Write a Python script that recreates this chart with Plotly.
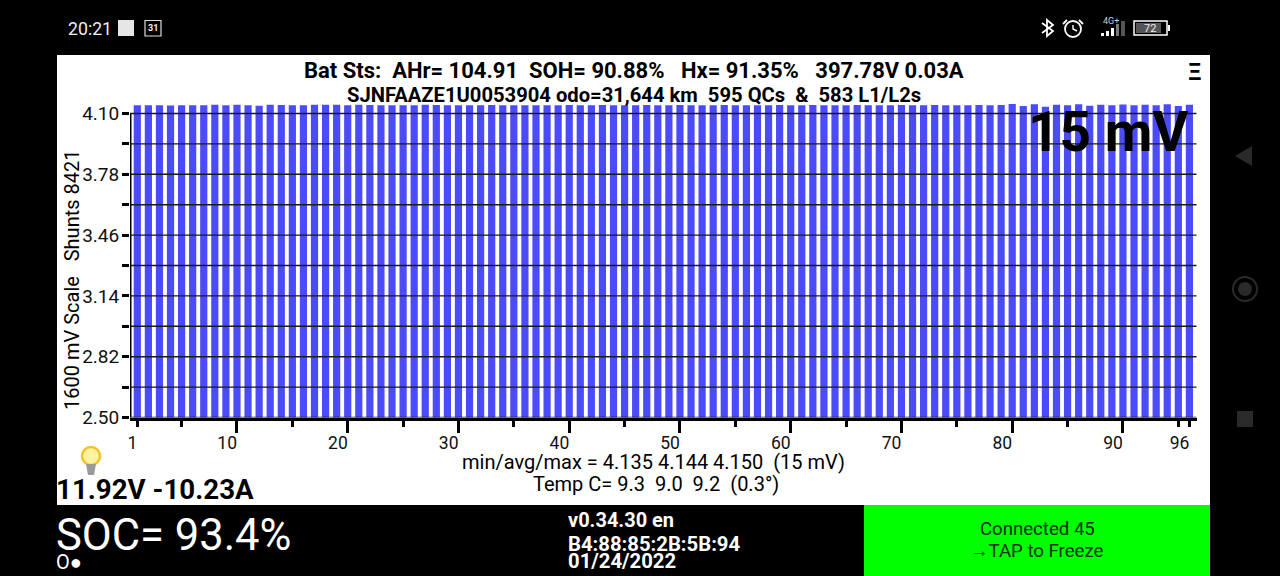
import plotly.graph_objects as go

W, H = 1280, 576
FONT = "Roboto"

# cell voltages
cells = list(range(1, 97))
volts = [
    4.144, 4.144, 4.144, 4.142, 4.144, 4.144, 4.144, 4.146, 4.144, 4.146,
    4.144, 4.141, 4.146, 4.145, 4.144, 4.144, 4.146, 4.146, 4.146, 4.144,
    4.146, 4.145, 4.144, 4.144, 4.144, 4.144, 4.146, 4.145, 4.144, 4.144,
    4.144, 4.144, 4.145, 4.144, 4.144, 4.144, 4.144, 4.144, 4.144, 4.145,
    4.144, 4.144, 4.145, 4.144, 4.144, 4.144, 4.145, 4.144, 4.144, 4.145,
    4.144, 4.144, 4.144, 4.145, 4.144, 4.144, 4.144, 4.144, 4.145, 4.144,
    4.144, 4.145, 4.144, 4.144, 4.144, 4.145, 4.144, 4.144, 4.144, 4.145,
    4.144, 4.144, 4.145, 4.144, 4.144, 4.144, 4.145, 4.144, 4.145, 4.150,
    4.140, 4.149, 4.136, 4.146, 4.143, 4.149, 4.141, 4.146, 4.143, 4.147,
    4.144, 4.146, 4.143, 4.149, 4.140, 4.146,
]

y_ticks = [2.50, 2.66, 2.82, 2.98, 3.14, 3.30, 3.46, 3.62, 3.78, 3.94, 4.10]
y_labels = ["2.50", "", "2.82", "", "3.14", "", "3.46", "", "3.78", "", "4.10"]
x_ticks = [1, 5, 10, 15, 20, 25, 30, 35, 40, 45, 50, 55, 60, 65, 70, 75, 80, 85, 90, 95, 96]
x_labels = ["1", "", "10", "", "20", "", "30", "", "40", "", "50", "", "60", "", "70", "", "80", "", "90", "", "96"]
x_long_ticks = [10, 20, 30, 40, 50, 60, 70, 80, 90]
x_range = [0.34, 96.66]
y_range = [2.5, 4.16]  # headroom so the bars can go over the 4.10 tick


def px(x):
    return x / W


def py(y):
    return 1 - y / H


def box(x0, y0, x1, y1, fill, line=None, width=0, kind="rect", layer="below"):
    return dict(type=kind, xref="paper", yref="paper", x0=px(x0), x1=px(x1), y0=py(y0), y1=py(y1),
                fillcolor=fill, line=dict(color=line or fill, width=width), layer=layer)


def path(points, fill, line=None, width=0):
    d = "M" + " L".join(f"{px(a)},{py(b)}" for a, b in points)
    if fill != "rgba(0,0,0,0)":
        d += " Z"
    return dict(type="path", xref="paper", yref="paper", path=d, fillcolor=fill,
                line=dict(color=line or fill, width=width), layer="below")


def label(x, y, text, size, color="black", bold=False, anchor="center", angle=0):
    return dict(xref="paper", yref="paper", x=px(x), y=py(y), text=text, showarrow=False,
                xanchor=anchor, yanchor="middle", textangle=angle, borderpad=0, borderwidth=0,
                font=dict(family=FONT, size=size, color=color, weight="bold" if bold else "normal"))


fig = go.Figure()
fig.add_trace(go.Bar(x=cells, y=volts, width=0.65, marker=dict(color="#4b4bfa", line=dict(width=0))))

shapes = [
    box(57, 55, 1210, 505, "white"),
    box(864, 505, 1210, 576, "#00ff00"),
    # status bar
    box(118, 20, 134, 36, "#e6e6e6"),
    box(145, 20.5, 161, 36, "black", "#dddddd", 1.2),
    # bluetooth
    path([(1042, 23), (1053, 31), (1047, 36), (1047, 20), (1053, 25), (1042, 33)], "rgba(0,0,0,0)", "white", 1.8),
    # alarm
    box(1065, 21, 1081, 37, "black", "white", 1.8, "circle"),
    path([(1073, 25), (1073, 29), (1077, 31)], "rgba(0,0,0,0)", "white", 1.4),
    path([(1063, 24), (1067, 20)], "rgba(0,0,0,0)", "white", 1.8),
    path([(1079, 20), (1083, 24)], "rgba(0,0,0,0)", "white", 1.8),
    # signal
    box(1101, 33, 1104, 36, "white"),
    box(1106, 31, 1109, 36, "white"),
    box(1111, 28, 1114, 36, "white"),
    box(1116, 24, 1119, 36, "#777777"),
    box(1121, 21, 1125, 36, "#555555"),
    # battery
    box(1134, 21, 1167, 35, "black", "white", 1.5),
    box(1136, 23, 1161, 33, "#555555"),
    box(1168, 25, 1170, 31, "white"),
    # nav
    path([(1235, 156), (1252, 146), (1252, 166)], "#2a2a2a"),
    box(1233, 277, 1257, 301, "black", "#2a2a2a", 2, "circle"),
    box(1238, 282, 1252, 296, "#2a2a2a", kind="circle"),
    box(1237, 411, 1253, 427, "#2a2a2a"),
    # bulb
    box(82, 447, 100, 465, "#fff3a0", "#f2c22a", 2.5, "circle"),
    path([(86, 464), (96, 464), (94, 475), (88, 475)], "#9a9a9a"),
]

# grid lines sit over the bars
for v in y_ticks:
    shapes.append(dict(type="line", xref="x", yref="y", x0=x_range[0], x1=x_range[1], y0=v, y1=v,
                       line=dict(color="#1a1a1a", width=1.4), layer="above"))
# y axis line stops at the top tick
shapes.append(dict(type="line", xref="x", yref="y", x0=x_range[0], x1=x_range[0], y0=y_ticks[0], y1=y_ticks[-1],
                   line=dict(color="black", width=3), layer="above"))

annotations = [
    label(90, 29, "20:21", 17.7, "#eeeeee"),
    label(153, 28, "31", 9, "#eeeeee", True),
    label(1111, 21, "4G+", 9, "#cccccc"),
    label(1150, 28.5, "72", 11, "#eeeeee"),
    label(634, 70, "Bat Sts:  AHr= 104.91  SOH= 90.88%   Hx= 91.35%   397.78V 0.03A", 22, bold=True),
    label(634, 95, "SJNFAAZE1U0053904 odo=31,644 km  595 QCs  &  583 L1/L2s", 20.2, bold=True),
    label(1195, 72, "Ξ", 24, bold=True),
    label(1108, 132, "15 mV", 55, bold=True),
    label(72, 280, "1600 mV Scale   Shunts 8421", 20, angle=-90),
    label(653, 462, "min/avg/max = 4.135 4.144 4.150  (15 mV)", 20),
    label(656, 484, "Temp C= 9.3  9.0  9.2  (0.3°)", 20),
    label(56, 489, "11.92V -10.23A", 27.7, bold=True, anchor="left"),
    label(56, 535, "SOC= 93.4%", 43.5, "white", anchor="left"),
    label(56, 562, "O●", 20, "white", anchor="left"),
    label(568, 520, "v0.34.30 en", 20, "white", True, anchor="left"),
    label(568, 544, "B4:88:85:2B:5B:94", 20.3, "white", True, anchor="left"),
    label(568, 561, "01/24/2022", 20.3, "white", True, anchor="left"),
    label(1037, 529, "Connected 45", 18.6, "#063006"),
    label(1037, 551, "→TAP to Freeze", 18.6, "#063006"),
]

px_per_volt = 190
fig.update_layout(
    width=W, height=H, autosize=False,
    margin=dict(l=0, r=0, t=0, b=0, pad=0, autoexpand=False),
    paper_bgcolor="black", plot_bgcolor="rgba(0,0,0,0)",
    showlegend=False,
    font=dict(family=FONT, color="#111111"),
    shapes=shapes, annotations=annotations,
    xaxis=dict(
        domain=[px(130), px(1196.7)], range=x_range, tickmode="array", tickvals=x_ticks, ticktext=x_labels,
        ticks="outside", ticklen=6, tickwidth=3, tickcolor="black", showgrid=False, zeroline=False,
        showline=True, linecolor="black", linewidth=3, tickfont=dict(family=FONT, size=17.5, color="#111111"),
        ticklabelposition="outside left", ticklabelstandoff=7, ticklabelshift=3, ticklabeloverflow="allow",
        minor=dict(tickmode="array", tickvals=x_long_ticks, ticks="outside", ticklen=12, tickwidth=3, tickcolor="black", showgrid=False),
    ),
    yaxis=dict(
        domain=[py(417.5), py(417.5 - (y_range[1] - y_range[0]) * px_per_volt)], range=y_range,
        tickmode="array", tickvals=y_ticks, ticktext=y_labels,
        ticks="outside", ticklen=7, tickwidth=3, tickcolor="black", showgrid=False, zeroline=False,
        showline=False, tickfont=dict(family=FONT, size=19, color="#111111"),
        ticklabelstandoff=-1,
    ),
)

fig.write_html("out.html", config={"displayModeBar": False},
               post_script="document.body.style.margin='0';document.body.style.overflow='hidden';")
